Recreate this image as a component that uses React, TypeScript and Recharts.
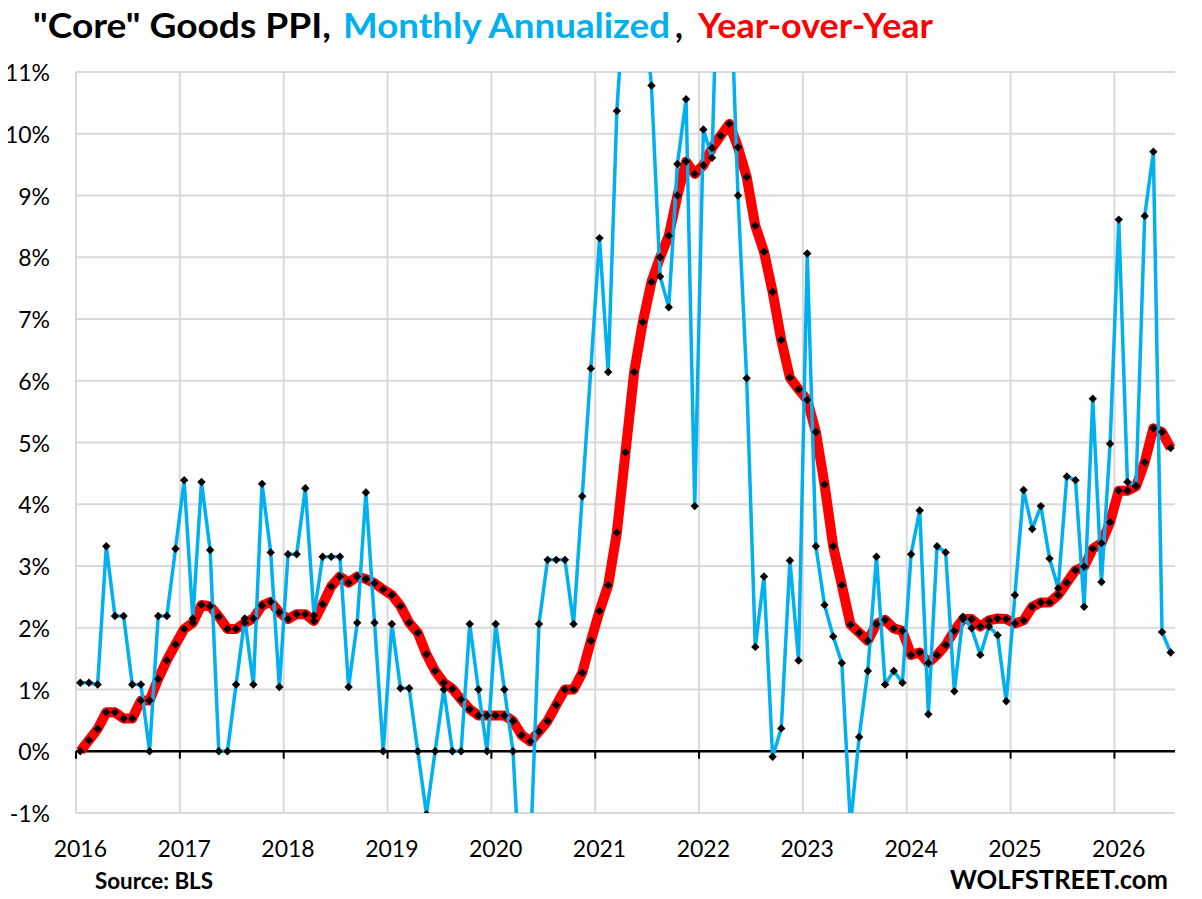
import React from 'react';
import { LineChart, Line, XAxis, YAxis, CartesianGrid, ReferenceLine } from 'recharts';

// Year labels (one per January)
const YEARS = ['2016', '2017', '2018', '2019', '2020', '2021', '2022', '2023', '2024', '2025', '2026'];

// Monthly annualized change, % (Jan 2016 .. Jul 2026)
const MONTHLY_ANNUALIZED = [
  1.11, 1.11, 1.08, 3.32, 2.19, 2.19, 1.08, 1.08, 0.0, 2.19, 2.19, 3.28,
  4.39, 2.15, 4.36, 3.26, 0.0, 0.0, 1.08, 2.15, 1.08, 4.33, 3.22, 1.04,
  3.19, 3.19, 4.26, 2.2, 3.15, 3.15, 3.15, 1.04, 2.08, 4.19, 2.08, 0.0,
  2.06, 1.02, 1.02, 0.0, -1.02, 0.0, 1.0, 0.0, 0.0, 2.06, 1.0, 0.0,
  2.06, 1.0, 0.0, -2.6, -1.7, 2.06, 3.1, 3.1, 3.1, 2.06, 4.13, 6.2,
  8.31, 6.14, 10.37, 12.5, 14.0, 12.2, 10.78, 7.69, 7.19, 9.51, 10.56, 3.97,
  10.07, 9.61, 14.5, 13.0, 9.0, 6.04, 1.69, 2.83, -0.09, 0.37, 3.09, 1.47,
  8.06, 3.32, 2.37, 1.86, 1.43, -1.2, 0.23, 1.3, 3.15, 1.08, 1.3, 1.11,
  3.19, 3.9, 0.6, 3.32, 3.22, 0.97, 2.18, 1.99, 1.56, 2.02, 1.88, 0.81,
  2.53, 4.23, 3.6, 3.97, 3.12, 2.64, 4.45, 4.39, 2.34, 5.71, 2.74, 4.98,
  8.61, 4.36, 4.3, 8.67, 9.71, 1.93, 1.6,
];

// Year-over-year change, %
const YEAR_OVER_YEAR = [
  0.0, 0.18, 0.36, 0.63, 0.63, 0.53, 0.53, 0.82, 0.82, 1.17, 1.47, 1.73,
  1.98, 2.08, 2.37, 2.35, 2.18, 1.98, 1.98, 2.08, 2.15, 2.36, 2.42, 2.25,
  2.14, 2.22, 2.22, 2.11, 2.38, 2.67, 2.83, 2.73, 2.83, 2.79, 2.72, 2.62,
  2.53, 2.35, 2.08, 1.92, 1.57, 1.3, 1.11, 1.01, 0.84, 0.68, 0.58, 0.58,
  0.58, 0.58, 0.49, 0.26, 0.16, 0.32, 0.49, 0.75, 1.0, 1.0, 1.27, 1.79,
  2.27, 2.69, 3.54, 4.84, 6.14, 6.95, 7.6, 8.0, 8.35, 9.0, 9.55, 9.35,
  9.49, 9.77, 9.97, 10.16, 9.78, 9.3, 8.51, 8.09, 7.44, 6.66, 6.05, 5.86,
  5.69, 5.17, 4.32, 3.32, 2.69, 2.05, 1.92, 1.79, 2.06, 2.13, 1.99, 1.95,
  1.56, 1.6, 1.43, 1.56, 1.72, 1.95, 2.14, 2.14, 2.02, 2.12, 2.15, 2.14,
  2.07, 2.12, 2.34, 2.41, 2.41, 2.53, 2.73, 2.93, 2.99, 3.28, 3.37, 3.71,
  4.22, 4.22, 4.29, 4.68, 5.23, 5.17, 4.91,
];

const Y_TICKS = [-1, 0, 1, 2, 3, 4, 5, 6, 7, 8, 9, 10, 11];

const data = MONTHLY_ANNUALIZED.map((m, i) => ({ idx: i, monthly: m, yoy: YEAR_OVER_YEAR[i] }));
const X_TICKS = YEARS.map((_, k) => k * 12);
const YEAR_BOUNDARIES = YEARS.map((_, k) => k * 12 - 0.5);

const BLUE = '#00B0F0';
const RED = '#FF0000';
const GRID = '#D9D9D9';
const FONT = 'Lato, "Open Sans", sans-serif';

const Diamond = (props: any) => {
  const { cx, cy, index } = props;
  if (cx == null || cy == null) return <g key={`d-${index}`} />;
  const r = 4.2;
  return (
    <path
      key={`d-${index}`}
      d={`M${cx},${cy - r}L${cx + r},${cy}L${cx},${cy + r}L${cx - r},${cy}Z`}
      fill="#000"
    />
  );
};

const YTick = (props: any) => {
  const { x, y, payload } = props;
  return (
    <text x={x} y={y} textAnchor="end" dominantBaseline="central" fontFamily={FONT} fontSize={23} fill="#000">
      {`${payload.value}%`}
    </text>
  );
};

const XTick = (props: any) => {
  const { x, y, payload } = props;
  const label = YEARS[Math.round(payload.value / 12)];
  return (
    <text x={x} y={y + 44} textAnchor="middle" fontFamily={FONT} fontSize={23} fill="#000">
      {label}
    </text>
  );
};

export default function App() {
  const W = 1202;
  const H = 899;
  return (
    <div
      style={{
        position: 'relative',
        width: W,
        height: H,
        marginLeft: -8,
        marginTop: -8,
        background: '#fff',
        fontFamily: FONT,
      }}
    >
      <LineChart width={W} height={H} data={data} margin={{ top: 72, right: 27, left: 0, bottom: 0 }}>
        <CartesianGrid vertical={false} stroke={GRID} strokeWidth={2} />
        <XAxis
          dataKey="idx"
          type="number"
          domain={[-0.5, 126.5]}
          ticks={X_TICKS}
          interval={0}
          axisLine={false}
          tickLine={false}
          tickSize={0}
          tickMargin={0}
          height={86}
          tick={<XTick />}
          allowDataOverflow
        />
        <YAxis
          type="number"
          domain={[-1, 11]}
          ticks={Y_TICKS}
          interval={0}
          axisLine={false}
          tickLine={false}
          tickSize={0}
          tickMargin={26}
          width={76}
          tick={<YTick />}
          allowDataOverflow
        />
        {YEAR_BOUNDARIES.map((b) => (
          <ReferenceLine key={`v-${b}`} x={b} stroke={GRID} strokeWidth={2} />
        ))}
        <ReferenceLine y={0} stroke="#000" strokeWidth={2.5} />
        {YEAR_BOUNDARIES.map((b) => (
          <ReferenceLine
            key={`t-${b}`}
            segment={[{ x: b, y: 0 }, { x: b, y: -0.12 }]}
            stroke="#000"
            strokeWidth={2}
          />
        ))}
        <Line
          type="linear"
          dataKey="yoy"
          stroke={RED}
          strokeWidth={10}
          strokeLinejoin="round"
          dot={Diamond}
          activeDot={false}
          isAnimationActive={false}
        />
        <Line
          type="linear"
          dataKey="monthly"
          stroke={BLUE}
          strokeWidth={3.5}
          strokeLinejoin="round"
          dot={Diamond}
          activeDot={false}
          isAnimationActive={false}
        />
      </LineChart>
      <svg
        width={W}
        height={H}
        style={{ position: 'absolute', left: 0, top: 0, pointerEvents: 'none' }}
      >
        <g fontFamily={FONT} fontWeight={700}>
          <text x={33} y={38} fontSize={34} fill="#000" textLength={298} lengthAdjust="spacingAndGlyphs">
            "Core" Goods PPI,
          </text>
          <text x={343} y={38} fontSize={34} fill={BLUE} textLength={327} lengthAdjust="spacingAndGlyphs">
            Monthly Annualized
          </text>
          <text x={675} y={38} fontSize={34} fill="#000">
            ,
          </text>
          <text x={698} y={38} fontSize={34} fill={RED} textLength={235} lengthAdjust="spacingAndGlyphs">
            Year-over-Year
          </text>
          <text x={95} y={889} fontSize={22} fill="#000" textLength={118} lengthAdjust="spacingAndGlyphs">
            Source: BLS
          </text>
          <text x={950} y={889} fontSize={26} fill="#000" textLength={218} lengthAdjust="spacingAndGlyphs">
            WOLFSTREET.com
          </text>
        </g>
      </svg>
    </div>
  );
}
